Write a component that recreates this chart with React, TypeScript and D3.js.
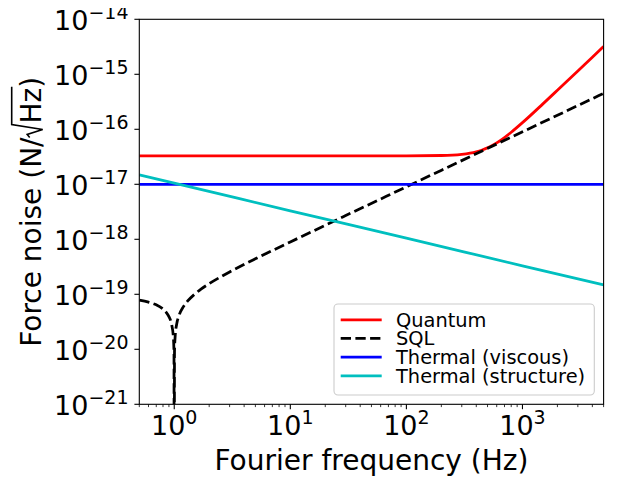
import React, { useLayoutEffect, useRef, useState } from "react";
import * as d3 from "d3";

const W = 618;
const H = 485;
const PL = 139.3, PR = 603.6, PT = 19.3, PB = 404.3;
const FONT = "DejaVu Sans";

// Quantum noise
const quantumFreq = [0.5, 1, 10, 100, 200, 300, 400, 450, 500, 550, 600, 700, 800, 1000, 1500, 2000, 3000, 4000, 5000];
const quantumNoise = [3.3e-17, 3.3e-17, 3.3e-17, 3.3e-17, 3.34e-17, 3.5e-17, 3.88e-17, 4.2e-17, 4.6e-17, 5.09e-17, 5.67e-17, 7.09e-17, 8.83e-17, 1.32e-16, 2.9e-16, 5.13e-16, 1.152e-15, 2.05e-15, 3.2e-15];

// Standard quantum limit
const sqlFreq = [0.5, 0.6, 0.7, 0.8, 0.85, 0.9, 0.95, 0.98, 0.995, 1.0, 1.005, 1.02, 1.05, 1.1, 1.2, 1.3, 1.5, 1.7, 2, 2.5, 3, 4, 5, 7, 10, 30, 100, 1000, 5000];
const sqlNoise = [7.8e-20, 7.2e-20, 6.43e-20, 5.4e-20, 4.74e-20, 3.92e-20, 2.81e-20, 1.79e-20, 9e-21, 1e-24, 9e-21, 1.8e-20, 2.88e-20, 4.12e-20, 5.97e-20, 7.48e-20, 1.006e-19, 1.24e-19, 1.56e-19, 2.06e-19, 2.55e-19, 3.49e-19, 4.41e-19, 6.24e-19, 8.95e-19, 2.7e-18, 9e-18, 9e-17, 4.5e-16];

// Thermal (viscous)
const viscousFreq = [0.5, 5000];
const viscousNoise = [1e-17, 1e-17];

// Thermal (structure)
const structFreq = [0.5, 1, 10, 100, 1000, 5000];
const structNoise = [1.48e-17, 1.05e-17, 3.3e-18, 1.05e-18, 3.3e-19, 1.48e-19];

const xMajorTicks = [1, 10, 100, 1000];
const xMajorExp = ["0", "1", "2", "3"];
const xMinorTicks = [0.5, 0.6, 0.7, 0.8, 0.9, 2, 3, 4, 5, 6, 7, 8, 9, 20, 30, 40, 50, 60, 70, 80, 90, 200, 300, 400, 500, 600, 700, 800, 900, 2000, 3000, 4000, 5000];
const yMajorTicks = [1e-21, 1e-20, 1e-19, 1e-18, 1e-17, 1e-16, 1e-15, 1e-14];
const yMajorExp = ["\u221221", "\u221220", "\u221219", "\u221218", "\u221217", "\u221216", "\u221215", "\u221214"];

const seriesNames = ["Quantum", "SQL", "Thermal (viscous)", "Thermal (structure)"];
const seriesColors = ["#ff0000", "#000000", "#0000ff", "#00bfbf"];
const seriesDash = [null, "10.3 4.4", null, null];

const xLabel = "Fourier frequency (Hz)";
const yLabelMain = "Force noise (N/";

export default function App() {
  const x = d3.scaleLog().domain([0.5, 5000]).range([PL, PR]);
  const y = d3.scaleLog().domain([1e-21, 1e-14]).range([PB, PT]);
  const line = d3
    .line<[number, number]>()
    .x((d) => x(d[0]))
    .y((d) => y(d[1]))
    .curve(d3.curveMonotoneX);

  const series: [number, number][][] = [
    quantumFreq.map((f, i) => [f, quantumNoise[i]]),
    sqlFreq.map((f, i) => [f, sqlNoise[i]]),
    viscousFreq.map((f, i) => [f, viscousNoise[i]]),
    structFreq.map((f, i) => [f, structNoise[i]]),
  ];

  const labelRef = useRef<SVGTextElement>(null);
  const [rad, setRad] = useState<{ xs: number; xe: number } | null>(null);
  useLayoutEffect(() => {
    const t = labelRef.current;
    if (!t) return;
    const idx = yLabelMain.length;
    const xs = t.getStartPositionOfChar(idx).x;
    const xe = t.getEndPositionOfChar(idx + 1).x;
    setRad({ xs, xe });
  }, []);

  const lw = 2.78;
  const legX = 334, legY = 304, legW = 260.3, legH = 91;
  const legBase = [326.7, 345.2, 363.9, 382.6];

  return (
    <svg width={W} height={H} style={{ display: "block", margin: "-8px" }} fontFamily={FONT}>
      <rect x={0} y={0} width={W} height={H} fill="#ffffff" />
      <defs>
        <clipPath id="plotclip">
          <rect x={PL} y={PT} width={PR - PL} height={PB - PT} />
        </clipPath>
      </defs>
      <g clipPath="url(#plotclip)">
        {series.map((s, i) => (
          <path
            key={i}
            d={line(s) || ""}
            fill="none"
            stroke={seriesColors[i]}
            strokeWidth={lw}
            strokeDasharray={seriesDash[i] || undefined}
          />
        ))}
      </g>
      {/* spines */}
      <rect x={PL} y={PT} width={PR - PL} height={PB - PT} fill="none" stroke="#000" strokeWidth={1.1} />
      {/* x ticks */}
      {xMinorTicks.map((t, i) => (
        <line key={"xm" + i} x1={x(t)} x2={x(t)} y1={PB} y2={PB + 2.8} stroke="#000" strokeWidth={0.8} />
      ))}
      {xMajorTicks.map((t, i) => (
        <g key={"xM" + i}>
          <line x1={x(t)} x2={x(t)} y1={PB} y2={PB + 4.9} stroke="#000" strokeWidth={1.1} />
          <text x={x(t)} y={435} textAnchor="middle" fontSize={27}>
            10<tspan fontSize={19} dy={-11}>{xMajorExp[i]}</tspan>
          </text>
        </g>
      ))}
      {/* y ticks */}
      {yMajorTicks.map((t, i) => (
        <g key={"yM" + i}>
          <line x1={PL - 4.9} x2={PL} y1={y(t)} y2={y(t)} stroke="#000" strokeWidth={1.1} />
          <text x={128.5} y={y(t) + 10.3} textAnchor="end" fontSize={27}>
            10<tspan fontSize={19} dy={-11}>{yMajorExp[i]}</tspan>
          </text>
        </g>
      ))}
      {/* axis labels */}
      <text x={(PL + PR) / 2} y={470} textAnchor="middle" fontSize={28}>
        {xLabel}
      </text>
      <g transform={`translate(40.7, ${(PT + PB) / 2}) rotate(-90)`}>
        <text ref={labelRef} x={0} y={0} textAnchor="middle" fontSize={28}>
          {yLabelMain}
          <tspan dx={14}>Hz</tspan>)
        </text>
        {rad && (
          <path
            d={`M${rad.xs - 14},-11 L${rad.xs - 11},-13.5 L${rad.xs - 6},2 L${rad.xs - 1},-29 L${rad.xe + 1},-29`}
            fill="none"
            stroke="#000"
            strokeWidth={1.6}
            strokeLinejoin="miter"
          />
        )}
      </g>
      {/* legend */}
      <rect x={legX} y={legY} width={legW} height={legH} rx={4} ry={4} fill="#ffffff" fillOpacity={0.8} stroke="#cccccc" strokeWidth={1.1} />
      {seriesNames.map((n, i) => (
        <g key={"leg" + i}>
          <line
            x1={340.7}
            x2={381.7}
            y1={legBase[i] - 6.8}
            y2={legBase[i] - 6.8}
            stroke={seriesColors[i]}
            strokeWidth={lw}
            strokeDasharray={seriesDash[i] || undefined}
          />
          <text x={396} y={legBase[i]} fontSize={19.4}>
            {n}
          </text>
        </g>
      ))}
    </svg>
  );
}
